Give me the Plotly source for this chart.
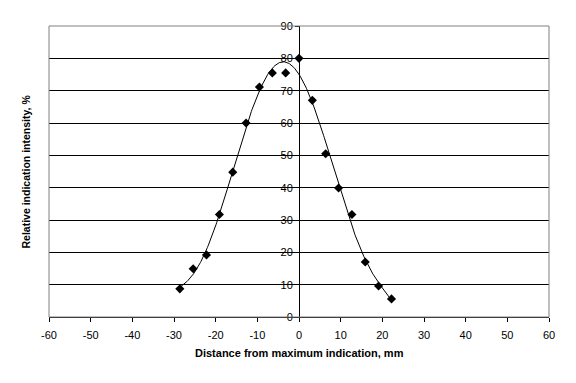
import numpy as np
import plotly.graph_objects as go

distance_mm = [-28.6, -25.4, -22.2, -19.1, -15.9, -12.7, -9.5, -6.4, -3.2,
               0.0, 3.2, 6.4, 9.5, 12.7, 15.9, 19.1, 22.2]
intensity_pct = [8.7, 14.9, 19.2, 31.7, 44.8, 60.0, 71.1, 75.5, 75.5,
                 80.0, 67.0, 50.5, 39.9, 31.7, 17.0, 9.6, 5.6]
x_ticks = [-60, -50, -40, -30, -20, -10, 0, 10, 20, 30, 40, 50, 60]
x_tick_labels = ["-60", "-50", "-40", "-30", "-20", "-10", "0", "10", "20",
                 "30", "40", "50", "60"]
y_ticks = [0, 10, 20, 30, 40, 50, 60, 70, 80, 90]

# polynomial trendline (as a spreadsheet trendline would compute it)
coef = np.polyfit(distance_mm, intensity_pct, 6)
xs = np.linspace(min(distance_mm), max(distance_mm), 300)
ys = np.polyval(coef, xs)

font_family = "Liberation Sans, Arial, sans-serif"

fig = go.Figure()
fig.add_trace(go.Scatter(x=xs, y=ys, mode="lines",
                         line=dict(color="black", width=1), hoverinfo="skip",
                         showlegend=False))
fig.add_trace(go.Scatter(x=distance_mm, y=intensity_pct, mode="markers",
                         marker=dict(symbol="diamond", size=7, color="black"),
                         showlegend=False))

# page body has an 8px default margin; size the figure to compensate
fig.update_layout(
    width=568, height=375,
    margin=dict(l=41, r=27, t=18, b=66, autoexpand=False),
    paper_bgcolor="white", plot_bgcolor="white",
    font=dict(family=font_family, size=11, color="black"),
    xaxis=dict(range=[-60, 60], tickvals=x_ticks, ticktext=x_tick_labels,
               ticks="outside", ticklen=4, ticklabelstandoff=4,
               tickcolor="black", showline=True, linecolor="black", linewidth=1,
               showgrid=False, zeroline=False, automargin=False,
               tickfont=dict(size=11)),
    yaxis=dict(range=[0, 90], tickvals=y_ticks, ticks="outside", ticklen=4,
               tickcolor="black", showline=True, linecolor="black", linewidth=1,
               showgrid=True, gridcolor="black", gridwidth=1, zeroline=False,
               anchor="free", position=0.5, automargin=False,
               tickfont=dict(size=11)),
    shapes=[dict(type="rect", xref="paper", yref="paper", x0=0, x1=1, y0=0, y1=1,
                 line=dict(color="#808080", width=1), layer="above")],
    annotations=[
        dict(text="<b>Relative indication intensity, %</b>",
             xref="paper", yref="paper", x=-0.048, y=0.5,
             xanchor="center", yanchor="middle", textangle=-90,
             showarrow=False, font=dict(size=10.5)),
        dict(text="<b>Distance from maximum indication, mm</b>",
             xref="paper", yref="paper", x=0.5, y=-0.124,
             xanchor="center", yanchor="middle",
             showarrow=False, font=dict(size=11)),
    ],
)

fig.write_html("out.html")
